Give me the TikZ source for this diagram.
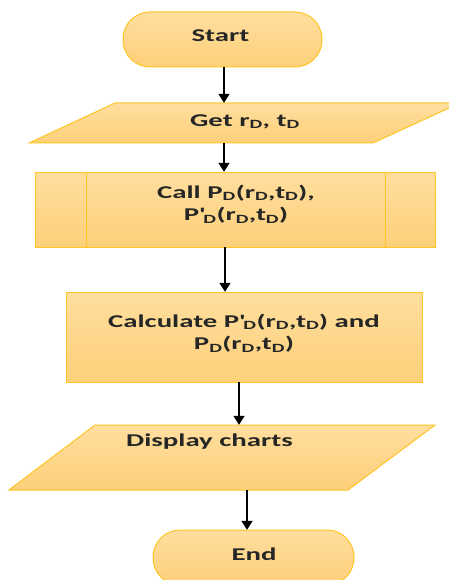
\documentclass[tikz,border=0pt]{standalone}
\usepackage{fontspec}
\setmainfont{Carlito}[FakeStretch=1.6]
\usetikzlibrary{arrows.meta,calc}
\definecolor{bordc}{HTML}{FFC425}
\definecolor{filltop}{HTML}{FFDE9E}
\definecolor{fillbot}{HTML}{FDD07A}
\definecolor{txt}{HTML}{262626}
\newcommand{\myap}{\textquotesingle}
\begin{document}
\begin{tikzpicture}[x=1pt,y=-1pt,
  shp/.style={draw=bordc, line width=1pt, top color=filltop, bottom color=fillbot},
  lbl/.style={font=\fontsize{18}{22.5}\selectfont\bfseries, text=txt, align=center, inner sep=0pt},
  anc/.style={inner sep=0pt, minimum width=10pt, minimum height=#1},
  arr/.style={line width=1.6pt, draw=black, -{Triangle[width=11pt,length=9pt]}}]
\useasboundingbox (0,0) rectangle (448,580);
% shapes
\draw[shp, rounded corners=27pt] (123,12) rectangle (322,67);
\draw[shp] (115,103) -- (460,103) -- (373,143) -- (29,143) -- cycle;
\draw[shp] (35,172) rectangle (435,247);
\draw[draw=bordc, line width=1pt] (86,172) -- (86,247) (385,172) -- (385,247);
\draw[shp] (66,292) rectangle (422,382);
\draw[shp] (95,425) -- (435,425) -- (348,490) -- (9,490) -- cycle;
\draw[shp, rounded corners=27pt] (153,530) rectangle (354,585);
% anchor nodes (shape extents)
\node[anc=55pt] (start) at (222.5,39.5) {};
\node[anc=40pt] (get) at (224,123) {};
\node[anc=75pt] (call) at (225,209.5) {};
\node[anc=90pt] (calc) at (239,337) {};
\node[anc=65pt] (disp) at (247,457.5) {};
\node[anc=55pt] (end) at (247,557.5) {};
% texts
\node[lbl] (startT) at (220.5,35.5) {Start};
\node[lbl] (getT) at (245,121.5) {Get r\textsubscript{D}, t\textsubscript{D}};
\node[lbl] (callT) at (236,204) {Call P\textsubscript{D}(r\textsubscript{D},t\textsubscript{D}),\\P\myap\textsubscript{D}(r\textsubscript{D},t\textsubscript{D})};
\node[lbl] (calcT) at (244,333) {Calculate P\myap\textsubscript{D}(r\textsubscript{D},t\textsubscript{D}) and\\P\textsubscript{D}(r\textsubscript{D},t\textsubscript{D})};
\node[lbl] (dispT) at (209.5,441.5) {Display charts};
\node[lbl] (endT) at (254,554) {End};
% connectors
\draw[arr] ([xshift=1.5pt]start.south) -- ([xshift=1.5pt]start.south |- get.north);
\draw[arr] (get.south) -- (get.south |- call.north);
\draw[arr] (call.south) -- (call.south |- calc.north);
\draw[arr] (calc.south) -- (calc.south |- disp.north);
\draw[arr] (disp.south) -- (end.north);
\end{tikzpicture}
\end{document}
